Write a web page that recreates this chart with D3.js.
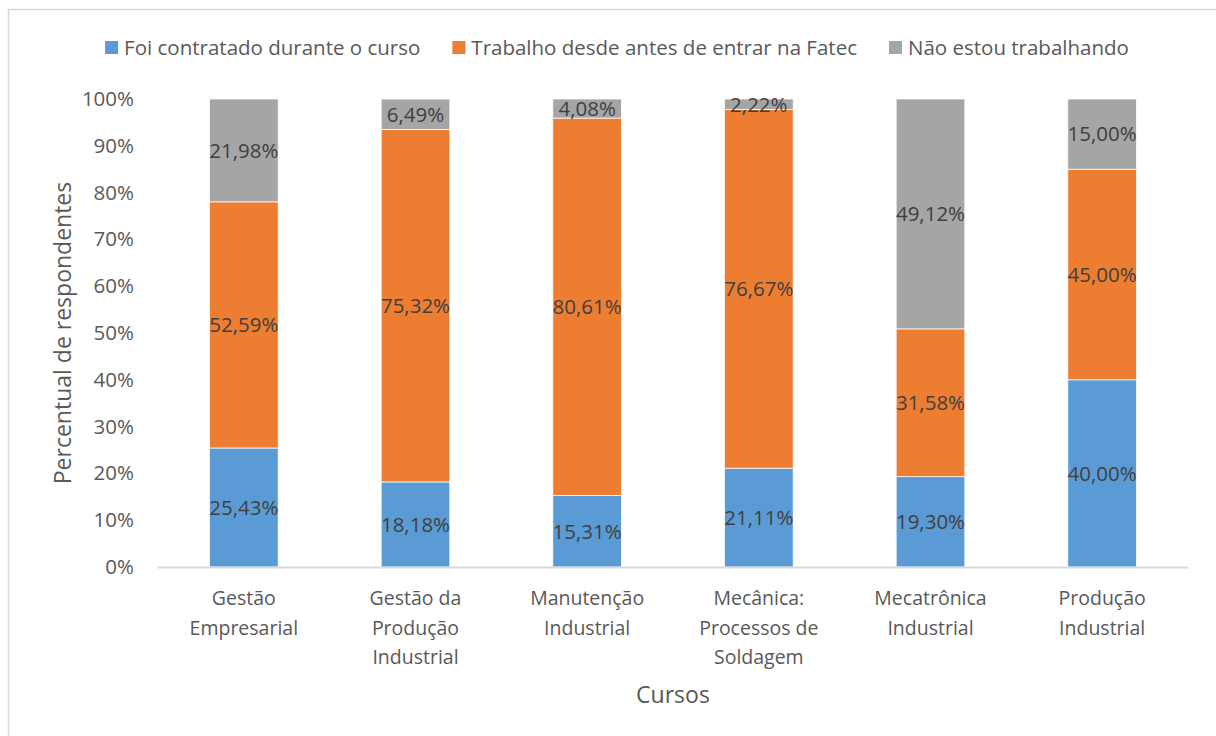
<!DOCTYPE html>
<html>
<head>
<meta charset="utf-8">
<script src="https://cdn.jsdelivr.net/npm/d3@7"></script>
<style>
  body { margin: 0; background: #fff; }
  svg { display: block; font-family: "Open Sans", "Noto Sans", sans-serif; }
</style>
</head>
<body>
<div id="chart"></div>
<script>
// Cursos (x categories), each label split in lines as in the original
const cursos = [
  ["Gestão", "Empresarial"],
  ["Gestão da", "Produção", "Industrial"],
  ["Manutenção", "Industrial"],
  ["Mecânica:", "Processos de", "Soldagem"],
  ["Mecatrônica", "Industrial"],
  ["Produção", "Industrial"]
];
const series = ["Foi contratado durante o curso", "Trabalho desde antes de entrar na Fatec", "Não estou trabalhando"];
const contratado = [25.43, 18.18, 15.31, 21.11, 19.30, 40.00];
const antes = [52.59, 75.32, 80.61, 76.67, 31.58, 45.00];
const naoTrabalha = [21.98, 6.49, 4.08, 2.22, 49.12, 15.00];
const yTicks = [0, 10, 20, 30, 40, 50, 60, 70, 80, 90, 100];
const colors = ["#5b9bd5", "#ed7d31", "#a5a5a5"];

let margin = { top: 99, left: 158, right: 28, bottom: 169 },
  W = 1216, H = 736,
  width = W - margin.left - margin.right,
  height = H - margin.top - margin.bottom;

let svg = d3.select("#chart").append("svg")
  .attr("width", W).attr("height", H);

// outer chart border
svg.append("rect")
  .attr("x", 8.5).attr("y", 9.5)
  .attr("width", 1230).attr("height", 760)
  .attr("fill", "none").attr("stroke", "#d9d9d9").attr("stroke-width", 1.5);

let g = svg.append("g").attr("transform", "translate(" + margin.left + "," + margin.top + ")");

let keys = d3.range(cursos.length);
let xScale = d3.scaleBand().domain(keys).range([0, width]).paddingInner(0.6).paddingOuter(0.3);
let yScale = d3.scaleLinear().domain([0, 100]).range([height, 0]);

let table = keys.map(i => ({ i: i, s0: contratado[i], s1: antes[i], s2: naoTrabalha[i] }));
let stacked = d3.stack().keys(["s0", "s1", "s2"])(table);

// y axis labels (no line, no ticks)
let yAxis = g.append("g")
  .call(d3.axisLeft(yScale).tickValues(yTicks).tickFormat(d => d + "%").tickSize(0).tickPadding(24));
yAxis.select(".domain").remove();
yAxis.selectAll("text")
  .attr("font-family", "'Open Sans', sans-serif")
  .attr("font-size", 20.5).attr("fill", "#595959");

// bars
let layers = g.selectAll(".layer").data(stacked).enter().append("g")
  .attr("fill", (d, k) => colors[k]);
layers.selectAll("rect").data(d => d).enter().append("rect")
  .attr("x", d => xScale(d.data.i))
  .attr("y", d => yScale(d[1]))
  .attr("width", xScale.bandwidth())
  .attr("height", d => yScale(d[0]) - yScale(d[1]))
  .attr("stroke", "#fff").attr("stroke-width", 0.75);

// data labels
layers.selectAll("text").data(d => d).enter().append("text")
  .attr("x", d => xScale(d.data.i) + xScale.bandwidth() / 2)
  .attr("y", d => (yScale(d[0]) + yScale(d[1])) / 2)
  .attr("dy", "0.36em")
  .attr("text-anchor", "middle")
  .attr("font-size", 20.5).attr("fill", "#404040")
  .text(d => (d[1] - d[0]).toFixed(2).replace(".", ",") + "%");

// x axis line
g.append("line")
  .attr("x1", 0).attr("x2", width)
  .attr("y1", height + 0.5).attr("y2", height + 0.5)
  .attr("stroke", "#d9d9d9").attr("stroke-width", 2);

// x category labels
let xLabels = g.append("g").selectAll("text").data(keys).enter().append("text")
  .attr("x", i => xScale(i) + xScale.bandwidth() / 2)
  .attr("y", height + 38)
  .attr("text-anchor", "middle")
  .attr("font-size", 19.5).attr("fill", "#595959");
xLabels.selectAll("tspan").data(i => cursos[i]).enter().append("tspan")
  .attr("x", function () { return d3.select(this.parentNode).attr("x"); })
  .attr("dy", (d, k) => k === 0 ? 0 : 29.5)
  .text(d => d);

// axis titles
svg.append("text")
  .attr("x", margin.left + width / 2).attr("y", 703)
  .attr("text-anchor", "middle")
  .attr("font-size", 23).attr("fill", "#595959")
  .text("Cursos");

svg.append("text")
  .attr("transform", "translate(71," + (margin.top + height / 2) + ") rotate(-90)")
  .attr("text-anchor", "middle")
  .attr("font-size", 23).attr("fill", "#595959")
  .text("Percentual de respondentes");

// legend
let legend = svg.append("g");
let lx = 0;
series.forEach((s, k) => {
  let item = legend.append("g").attr("transform", "translate(" + lx + ",0)");
  item.append("rect").attr("x", 0).attr("y", -14).attr("width", 13).attr("height", 13).attr("fill", colors[k]);
  let t = item.append("text").attr("x", 19).attr("y", 0)
    .attr("font-size", 20.5).attr("fill", "#595959").text(s);
  lx += 19 + t.node().getComputedTextLength() + 32;
});
let legendWidth = lx - 32;
legend.attr("transform", "translate(" + (617 - legendWidth / 2) + ",55)");
</script>
</body>
</html>
